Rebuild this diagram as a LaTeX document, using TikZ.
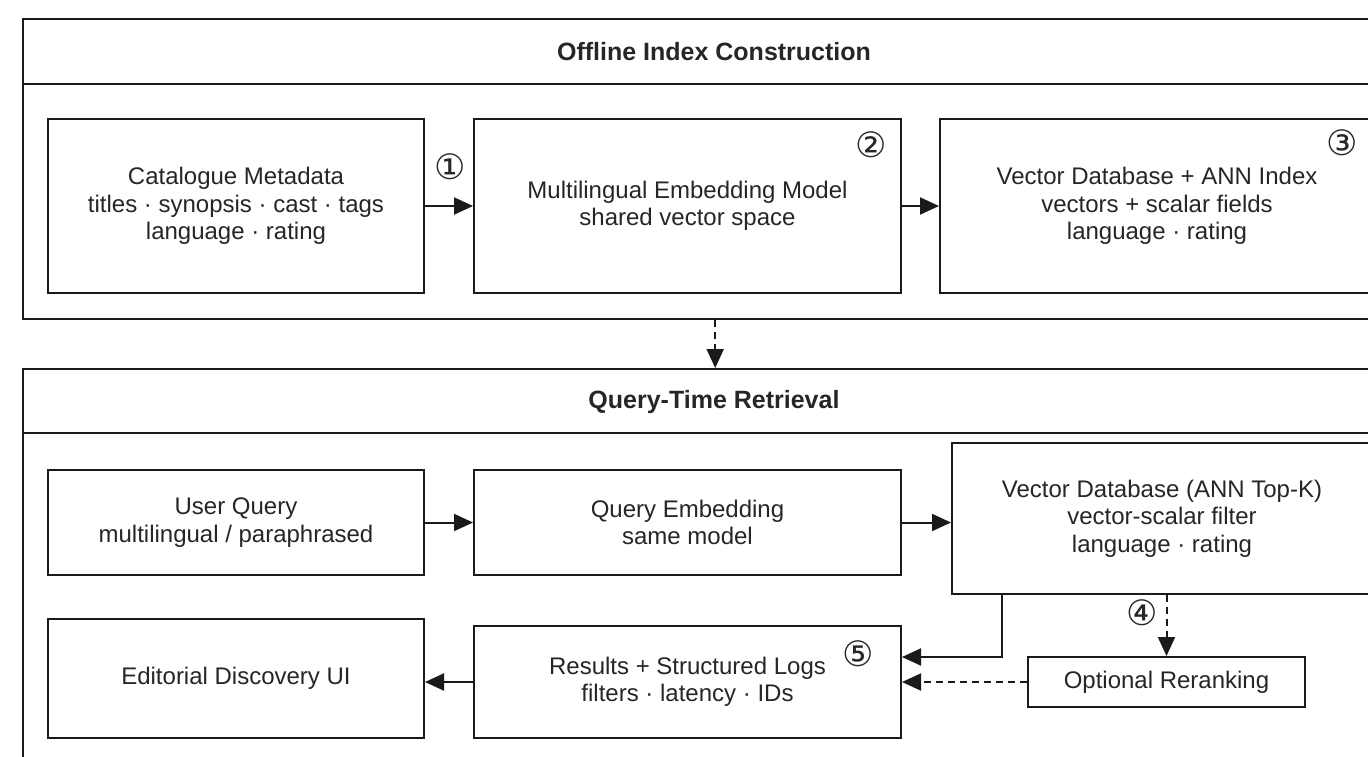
\documentclass[tikz,border=0pt]{standalone}
\usepackage{fontspec}
\setmainfont{Liberation Sans}
\newfontfamily\circfont{DejaVu Sans}
\usetikzlibrary{arrows.meta}
\definecolor{ink}{HTML}{1A1A1A}
\definecolor{txt}{HTML}{262626}
\begin{document}
\begin{tikzpicture}[x=1pt,y=-1pt,
  frame/.style={draw=ink, line width=2.4pt},
  container/.style={frame, fill=white, inner sep=0pt, anchor=north west},
  box/.style={draw=ink, line width=2pt, fill=white, align=center, text=txt,
    font=\fontsize{24}{27.5}\selectfont, inner sep=0pt},
  heading/.style={font=\bfseries\fontsize{25}{28}\selectfont, text=txt},
  badge/.style={font=\circfont\fontsize{35}{36}\selectfont, text=txt, inner sep=0pt},
  flow/.style={draw=ink, line width=2pt, -{Triangle[length=19pt,width=17pt]}},
  flowd/.style={flow, dash pattern=on 7pt off 5pt}]
\useasboundingbox (0,0) rectangle (1368,756);
\clip (0,0) rectangle (1368,756);
\fill[white] (0,0) rectangle (1368,756);

% stage containers
\node[container, minimum width=1384pt, minimum height=300pt] (offline) at (22,18) {};
\draw[frame] (22,84) -- (1406,84);
\node[heading] (offlineTitle) at (714,52) {Offline Index Construction};

\node[container, minimum width=1384pt, minimum height=410pt] (online) at (22,368) {};
\draw[frame] (22,433) -- (1406,433);
\node[heading] (onlineTitle) at (714,402) {Query-Time Retrieval};

% offline steps
\node[box, minimum width=376pt, minimum height=174pt] (meta) at (236,206)
  {Catalogue Metadata\\titles · synopsis · cast · tags\\language · rating};
\node[box, minimum width=427pt, minimum height=174pt] (embed) at (687.5,206)
  {Multilingual Embedding Model\\shared vector space};
\node[box, minimum width=434pt, minimum height=174pt] (vdb) at (1157,206)
  {Vector Database + ANN Index\\vectors + scalar fields\\language · rating};

% query-time steps
\node[box, minimum width=376pt, minimum height=105pt] (query) at (236,522.5)
  {User Query\\multilingual / paraphrased};
\node[box, minimum width=427pt, minimum height=105pt] (qemb) at (687.5,522.5)
  {Query Embedding\\same model};
\node[box, minimum width=420pt, minimum height=151pt] (ann) at (1162,518.5)
  {Vector Database (ANN Top-K)\\vector-scalar filter\\language · rating};
\node[box, minimum width=376pt, minimum height=119pt] (ui) at (236,678.5)
  {Editorial Discovery UI};
\node[box, minimum width=427pt, minimum height=112pt] (results) at (687.5,682)
  {Results + Structured Logs\\filters · latency · IDs};
\node[box, minimum width=277pt, minimum height=50pt] (rerank) at (1166.5,682)
  {Optional Reranking};

% step markers
\node[badge] (s1) at (450,167) {①};
\node[badge] (s2) at (871,145) {②};
\node[badge] (s3) at (1342,143) {③};
\node[badge] (s4) at (1142,613) {④};
\node[badge] (s5) at (858,654) {⑤};

% connectors
\draw[flow] (meta.east) -- (embed.west);
\draw[flow] (embed.east) -- (vdb.west);
\draw[flowd] (offline.south) -- (online.north);
\draw[flow] (query.east) -- (query.east -| qemb.west);
\draw[flow] (qemb.east) -- (qemb.east -| ann.west);
\draw[flow] (ann.south west) ++(51,0) |- ([yshift=25pt]results.east);
\draw[flowd] (ann.south -| rerank.north) -- (rerank.north);
\draw[flowd] (rerank.west) -- (rerank.west -| results.east);
\draw[flow] (results.west) -- (results.west -| ui.east);
\end{tikzpicture}
\end{document}
